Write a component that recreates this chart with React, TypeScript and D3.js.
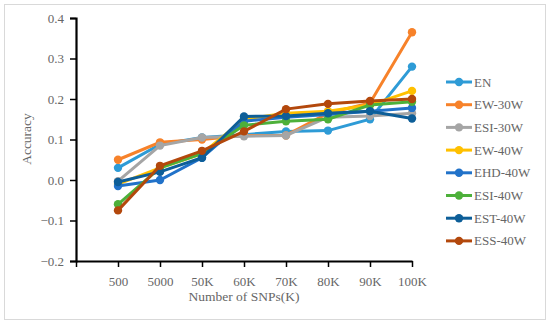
import React, { useEffect, useRef } from 'react';
import * as d3 from 'd3';

const categories = ['500', '5000', '50K', '60K', '70K', '80K', '90K', '100K'];
const seriesNames = ['EN', 'EW-30W', 'ESI-30W', 'EW-40W', 'EHD-40W', 'ESI-40W', 'EST-40W', 'ESS-40W'];
const colors = ['#2E9BD6', '#F7822A', '#A5A5A5', '#FFC000', '#2172C9', '#4DB03A', '#0D5E98', '#B3480C'];

const EN = [0.03, 0.088, 0.105, 0.112, 0.12, 0.122, 0.15, 0.28];
const EW30 = [0.05, 0.093, 0.1, 0.11, 0.11, 0.165, 0.19, 0.365];
const ESI30 = [-0.003, 0.085, 0.105, 0.108, 0.11, 0.155, 0.158, 0.165];
const EW40 = [-0.01, 0.03, 0.065, 0.15, 0.165, 0.17, 0.185, 0.22];
const EHD40 = [-0.015, 0.0, 0.055, 0.145, 0.155, 0.162, 0.17, 0.178];
const ESI40 = [-0.06, 0.03, 0.065, 0.135, 0.145, 0.15, 0.185, 0.193];
const EST40 = [-0.005, 0.02, 0.055, 0.157, 0.158, 0.165, 0.17, 0.152];
const ESS40 = [-0.075, 0.035, 0.072, 0.12, 0.175, 0.188, 0.195, 0.2];

const allSeries = [EN, EW30, ESI30, EW40, EHD40, ESI40, EST40, ESS40];
const yTicks = [-0.2, -0.1, 0.0, 0.1, 0.2, 0.3, 0.4];

const App = () => {
  const ref = useRef<SVGSVGElement>(null);

  useEffect(() => {
    const svg = d3.select(ref.current);
    svg.selectAll('*').remove();
    const font = '"Liberation Serif", "Times New Roman", serif';
    const textColor = '#666';

    svg.append('rect')
      .attr('x', 4.5).attr('y', 4.5)
      .attr('width', 541).attr('height', 315)
      .attr('fill', '#fff').attr('stroke', '#d9d9d9');

    // index 0 is the empty slot at the axis origin
    const x = d3.scaleLinear().domain([0, categories.length]).range([76, 412]);
    const y = d3.scaleLinear().domain([-0.2, 0.4]).range([261, 18]);

    const yAxis = svg.append('g')
      .attr('transform', 'translate(76,0)')
      .call(d3.axisLeft(y).tickValues(yTicks).tickFormat(d => {
        const v = +d;
        return (v < 0 ? '\u2212' : '') + Math.abs(v).toFixed(1);
      }).tickSize(6).tickPadding(6));
    yAxis.select('.domain').attr('stroke', '#000').attr('stroke-width', 2.2);
    yAxis.selectAll('.tick line').attr('stroke', '#000').attr('stroke-width', 1.5);
    yAxis.selectAll('.tick text').attr('fill', textColor).style('font-family', font).style('font-size', '13px');

    const xAxis = svg.append('g')
      .attr('transform', 'translate(0,261)')
      .call(d3.axisBottom(x)
        .tickValues(d3.range(0, categories.length + 1))
        .tickFormat(d => (+d === 0 ? '' : categories[+d - 1]))
        .tickSize(6).tickSizeOuter(0).tickPadding(10));
    xAxis.select('.domain').attr('stroke', '#000').attr('stroke-width', 2.2);
    xAxis.selectAll('.tick line').attr('stroke', '#000').attr('stroke-width', 1.5);
    xAxis.selectAll('.tick text').attr('fill', textColor).style('font-family', font).style('font-size', '13px');

    svg.append('text')
      .attr('x', 244).attr('y', 301)
      .attr('text-anchor', 'middle')
      .attr('fill', textColor)
      .style('font-family', font).style('font-size', '13.5px')
      .text('Number of SNPs(K)');

    svg.append('text')
      .attr('transform', 'translate(31,139) rotate(-90)')
      .attr('text-anchor', 'middle')
      .attr('fill', textColor)
      .style('font-family', font).style('font-size', '13.5px')
      .text('Accuracy');

    const line = d3.line<number>()
      .x((_, i) => x(i + 1))
      .y(d => y(d));

    allSeries.forEach((vals, si) => {
      const g = svg.append('g');
      g.append('path')
        .datum(vals)
        .attr('d', line)
        .attr('fill', 'none')
        .attr('stroke', colors[si])
        .attr('stroke-width', 3);
      g.selectAll('circle')
        .data(vals)
        .enter()
        .append('circle')
        .attr('cx', (_, i) => x(i + 1))
        .attr('cy', d => y(d))
        .attr('r', 4.2)
        .attr('fill', colors[si]);
    });

    const legend = svg.append('g');
    seriesNames.forEach((name, i) => {
      const ly = 82 + i * 22.7;
      legend.append('line')
        .attr('x1', 446).attr('x2', 472)
        .attr('y1', ly).attr('y2', ly)
        .attr('stroke', colors[i]).attr('stroke-width', 3);
      legend.append('circle')
        .attr('cx', 459).attr('cy', ly).attr('r', 4.2)
        .attr('fill', colors[i]);
      legend.append('text')
        .attr('x', 474).attr('y', ly + 4.5)
        .attr('fill', textColor)
        .style('font-family', font).style('font-size', '13px')
        .text(name);
    });
  }, []);

  return <svg ref={ref} width={550} height={323} style={{ position: 'absolute', left: 0, top: 0 }}></svg>;
};

export default App;
